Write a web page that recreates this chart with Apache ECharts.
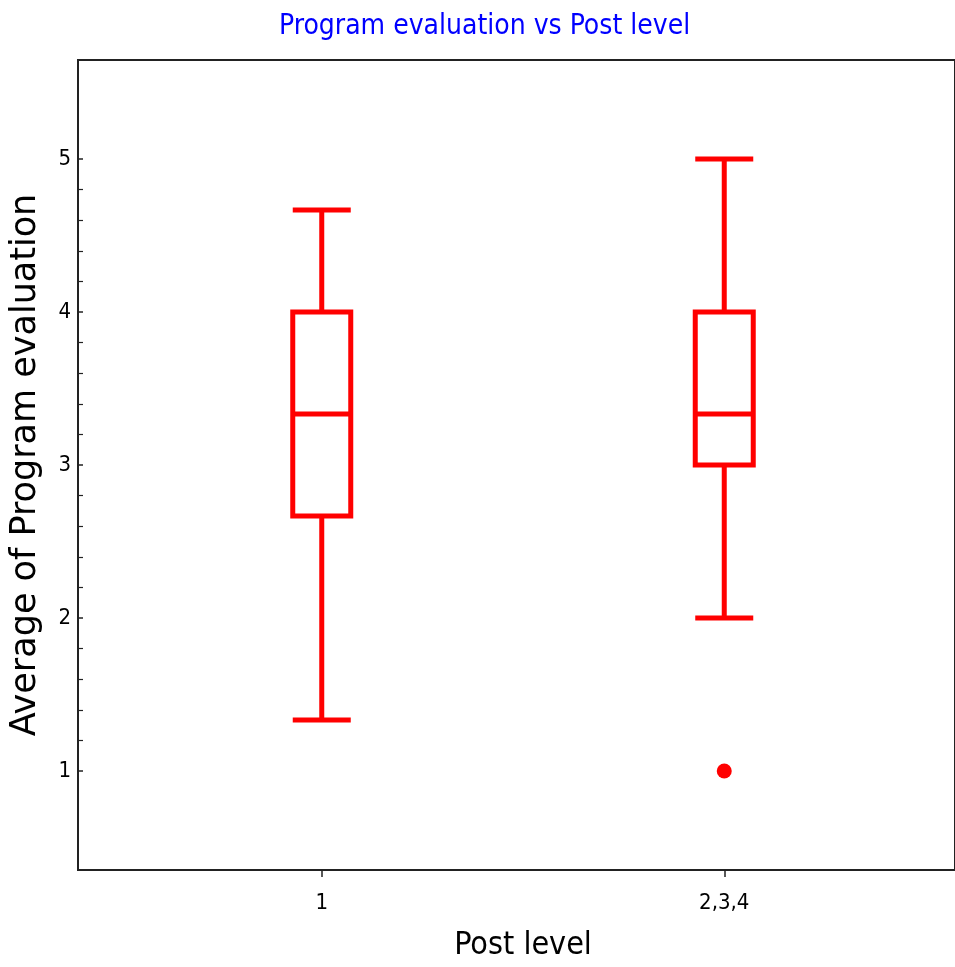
<!DOCTYPE html>
<html>
<head>
<meta charset="utf-8">
<script src="https://cdn.jsdelivr.net/npm/echarts@6/dist/echarts.min.js"></script>
<style>
  html, body { margin: 0; padding: 0; background: #fff; }
  #main { width: 955px; height: 967px; }
</style>
</head>
<body>
<div id="main"></div>
<script>
  var chart = echarts.init(document.getElementById('main'));

  // data
  var categories = ['1', '2,3,4'];
  var lowWhisker = [1.333, 2];
  var q1 = [2.667, 3];
  var median = [3.333, 3.333];
  var q3 = [4, 4];
  var highWhisker = [4.667, 5];
  var outlierCat = [1];
  var outlierVal = [1];
  var yTicks = [1, 2, 3, 4, 5];

  var narrow = "'Liberation Sans Narrow', 'Arial Narrow', 'DejaVu Sans Condensed', sans-serif";

  var boxData = categories.map(function (c, i) {
    return [lowWhisker[i], q1[i], median[i], q3[i], highWhisker[i]];
  });
  var outData = outlierCat.map(function (c, i) {
    return [c, outlierVal[i]];
  });

  var option = {
    backgroundColor: '#fff',
    animation: false,
    title: {
      text: 'Program evaluation vs Post level',
      left: 274,
      top: 8,
      textStyle: { color: '#0000ff', fontFamily: narrow, fontSize: 28, fontWeight: 'normal' }
    },
    grid: [
      // frame
      { left: 78, top: 60, width: 887, height: 810, show: true, borderColor: '#222', borderWidth: 2, backgroundColor: 'transparent' },
      // plot area (1..5)
      { left: 115.5, top: 159, width: 810, height: 612 }
    ],
    xAxis: [
      { gridIndex: 0, type: 'value', show: false, min: 0, max: 1 },
      {
        gridIndex: 1, type: 'category', data: categories, offset: 99,
        axisLine: { show: false },
        axisTick: { show: true, alignWithLabel: true, length: 7, lineStyle: { color: '#222', width: 1.5 } },
        axisLabel: { margin: 22, color: '#000', fontFamily: narrow, fontSize: 22 },
        name: 'Post level', nameLocation: 'middle', nameGap: 60,
        nameTextStyle: { color: '#000', fontFamily: narrow, fontSize: 32 }
      }
    ],
    yAxis: [
      { gridIndex: 0, type: 'value', show: false, min: 0, max: 1 },
      {
        gridIndex: 1, type: 'value', min: 1, max: 5, interval: 1, offset: 37.5,
        axisLine: { show: false },
        axisTick: { show: true, length: 6, lineStyle: { color: '#222', width: 1.5 } },
        minorTick: { show: true, splitNumber: 5, length: 4, lineStyle: { color: '#222', width: 1.2 } },
        splitLine: { show: false },
        axisLabel: { margin: 12, color: '#000', fontFamily: narrow, fontSize: 22,
          customValues: yTicks },
        name: 'Average of Program evaluation', nameLocation: 'middle', nameGap: 40,
        nameTextStyle: { color: '#000', fontFamily: "'DejaVu Sans', sans-serif", fontSize: 35 }
      }
    ],
    series: [
      {
        type: 'boxplot',
        xAxisIndex: 1, yAxisIndex: 1,
        boxWidth: [58, 58],
        itemStyle: { color: 'transparent', borderColor: '#ff0000', borderWidth: 5 },
        data: boxData
      },
      {
        type: 'scatter',
        xAxisIndex: 1, yAxisIndex: 1,
        symbol: 'circle', symbolSize: 15,
        itemStyle: { color: '#ff0000', opacity: 1 },
        data: outData
      }
    ]
  };
  chart.setOption(option);
</script>
</body>
</html>
